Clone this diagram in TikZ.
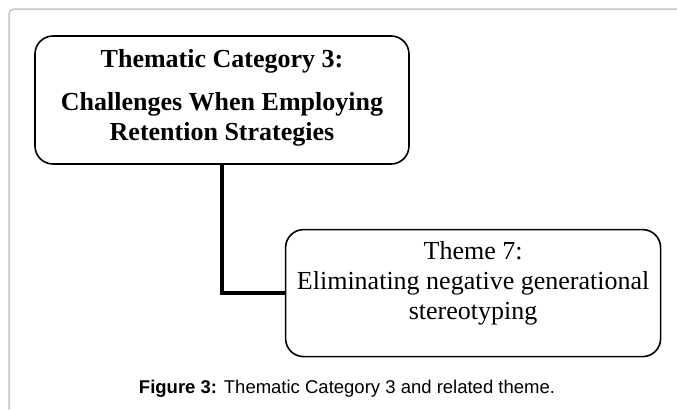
\documentclass[tikz,border=0pt]{standalone}
\usepackage{fontspec}
\setmainfont{Liberation Serif}
\newfontfamily\capfont{Liberation Sans}
\usetikzlibrary{positioning}

\begin{document}
\begin{tikzpicture}[x=1pt,y=-1pt,
                    box/.style={draw,rounded corners=18pt,line width=1.6pt,align=center,
                                minimum width=374pt,minimum height=128pt,inner sep=0pt,
                                font=\fontsize{26}{30}\selectfont},
                    link/.style={line width=4pt}]
 % \tikzstyle{every node}=[draw=red]
  \useasboundingbox (0,0) rectangle (677,410);
  \draw[line width=1.5pt,color=black!22,rounded corners=5pt] (677,9) -- (9,9) -- (9,410);

  \node[box]        (cat)   at (222,100)  {\bfseries Thematic Category 3:\\[13pt]
                                           \bfseries Challenges When Employing\\
                                           \bfseries Retention Strategies\rule[-10.7pt]{0pt}{10.7pt}};
  \node[box,minimum width=375pt,minimum height=127pt]
                    (theme) [below right=64pt and -125pt of cat]
                                          {Theme 7:\\
                                           Eliminating negative generational\\
                                           stereotyping\rule[-24.7pt]{0pt}{24.7pt}};

  \node[anchor=base,font=\capfont\fontsize{18.5}{22}\selectfont]
                    (fig)   at (347,393)  {\textbf{Figure 3:} Thematic Category 3 and related theme.};

  \path[link] (cat.south) edge [-,to path={|- (\tikztotarget)}] (theme.west);
\end{tikzpicture}
\end{document}
